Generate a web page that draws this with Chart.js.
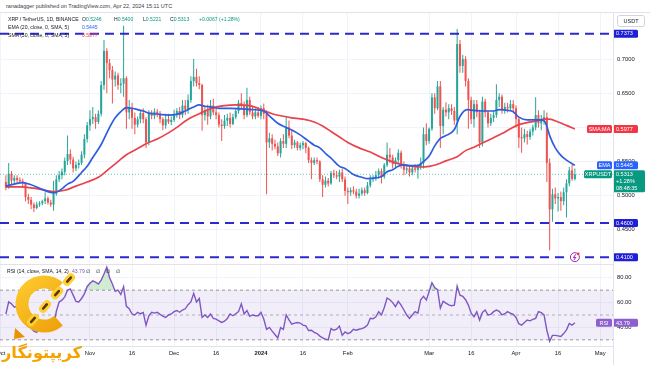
<!DOCTYPE html>
<html>
<head>
<meta charset="utf-8">
<script src="https://cdn.jsdelivr.net/npm/chart.js@4.4.1/dist/chart.umd.min.js"></script>
<style>
html,body{margin:0;padding:0;background:#fff;}
body{width:650px;height:365px;overflow:hidden;position:relative;font-family:"Liberation Sans",Arial,sans-serif;}
canvas{position:absolute;left:0;}
#c1{top:13px;}
#c2{top:264px;}
.t{position:absolute;white-space:nowrap;font-size:5.1px;line-height:6px;color:#131722;z-index:5;}
.g{color:#089981;}
.ln{position:absolute;background:#e0e3eb;z-index:4;}
#fa{position:absolute;left:2px;top:345px;font-family:"DejaVu Sans",sans-serif;font-weight:bold;color:#f5a300;white-space:nowrap;z-index:6;direction:rtl;line-height:1;}
</style>
</head>
<body>
<canvas id="c1" width="650" height="251"></canvas>
<canvas id="c2" width="650" height="101"></canvas>
<div class="ln" style="left:0;top:12px;width:650px;height:1px"></div>
<div class="ln" style="left:0;top:264px;width:613px;height:1px"></div>
<div class="ln" style="left:613px;top:12px;width:1px;height:353px"></div>

<div class="t" style="left:6px;top:3px;color:#404040;font-size:5.5px">ranadagger published on TradingView.com, Apr 22, 2024 15:11 UTC</div>
<div class="t" style="left:8px;top:16px">XRP / TetherUS, 1D, BINANCE</div>
<div class="t" style="left:82px;top:16px">O<span class="g" id="vO"></span></div>
<div class="t" style="left:114px;top:16px">H<span class="g" id="vH"></span></div>
<div class="t" style="left:143px;top:16px">L<span class="g" id="vL"></span></div>
<div class="t" style="left:170px;top:16px">C<span class="g" id="vC"></span></div>
<div class="t" style="left:199px;top:16px"><span class="g" id="vChg"></span></div>
<div class="t" style="left:8px;top:24px">EMA (20, close, 0, SMA, 5)</div>
<div class="t" style="left:82px;top:24px;color:#2962ff" id="vEma"></div>
<div class="t" style="left:8px;top:31.5px">SMA (50, close, 0, SMA, 5)</div>
<div class="t" style="left:82px;top:31.5px;color:#f23645" id="vSma"></div>
<div class="t" style="left:7px;top:267.5px">RSI (14, close, SMA, 14, 2)</div>
<div class="t" style="left:72px;top:267.5px;color:#7e57c2" id="vRsi"></div>
<div class="t" style="left:86px;top:267.5px">∅</div>
<div class="t" style="left:96px;top:267.5px">∅</div>
<div class="t" style="left:106px;top:267.5px">∅</div>
<div class="t" style="left:116px;top:267.5px">∅</div>
<div id="fa">کریپتونگار</div>

<script>
// ---------------- DATA ----------------
// day numbers: 0 = 1 Nov 2023; first candle = 2 Oct 2023
const firstDay = -30;
const opens = [
 .520,.512,.532,.522,.526,.523,.521,.518,.498,.494,.487,.482,.487,.489,.492,.496,.490,.487,.503,.524,.530,.535,.551,.561,.553,.540,.545,.548,.560,.583,
 .603,.612,.615,.608,.620,.662,.712,.694,.684,.670,.676,.662,.664,.672,.622,.628,.614,.604,.612,.621,.612,.578,.620,.617,.623,.620,.612,.603,.612,.608,
 .611,.620,.624,.618,.632,.626,.640,.668,.674,.665,.662,.618,.625,.616,.632,.622,.618,.604,.602,.610,.614,.605,.615,.624,.636,.632,.618,.640,.622,.616,.622,
 .617,.628,.620,.578,.584,.576,.572,.562,.580,.576,.600,.588,.574,.578,.570,.574,.577,.570,.552,.548,.552,.550,.524,.516,.522,.518,.533,.530,.528,.534,.524,
 .507,.505,.508,.506,.500,.503,.508,.504,.515,.524,.526,.530,.536,.528,.545,.560,.556,.546,.552,.563,.546,.538,.540,.534,.540,.538,.542,.548,.590,
 .580,.598,.644,.628,.660,.602,.626,.622,.628,.624,.610,.722,.690,.700,.668,.640,.612,.634,.622,.578,.638,.622,.606,.614,.618,.640,.645,.626,.630,.628,.634,
 .628,.612,.585,.584,.590,.586,.594,.600,.618,.606,.612,.615,.548,.480,.502,.496,.498,.492,.505,.518,.537,.5246];
const highs = [
 .530,.548,.536,.530,.530,.527,.525,.520,.503,.498,.490,.491,.492,.494,.505,.499,.494,.522,.530,.536,.540,.556,.588,.568,.557,.550,.553,.565,.590,.608,
 .625,.630,.620,.625,.668,.728,.716,.700,.690,.682,.680,.672,.749,.675,.640,.636,.622,.616,.625,.628,.615,.625,.625,.628,.627,.624,.615,.620,.620,.616,
 .626,.628,.630,.640,.640,.648,.675,.700,.686,.675,.664,.632,.633,.640,.642,.628,.622,.612,.618,.620,.622,.620,.628,.640,.650,.638,.658,.645,.630,.628,.630,
 .632,.635,.625,.592,.590,.582,.578,.584,.590,.617,.610,.596,.582,.580,.578,.580,.579,.572,.556,.556,.556,.552,.530,.528,.526,.536,.538,.536,.538,.540,.528,
 .512,.512,.514,.510,.510,.512,.512,.520,.530,.530,.536,.540,.540,.548,.578,.570,.560,.556,.568,.566,.550,.546,.545,.544,.546,.546,.556,.600,.606,
 .600,.650,.650,.668,.668,.630,.637,.634,.634,.630,.744,.728,.706,.704,.672,.645,.640,.640,.626,.645,.642,.625,.620,.624,.663,.650,.648,.636,.636,.640,.640,
 .632,.614,.600,.598,.595,.598,.604,.644,.625,.618,.625,.622,.555,.510,.512,.504,.506,.512,.524,.542,.545,.5400];
const lows = [
 .508,.510,.516,.516,.518,.519,.513,.492,.488,.480,.476,.480,.484,.486,.488,.487,.484,.478,.500,.520,.524,.530,.545,.546,.534,.536,.540,.545,.555,.578,
 .595,.605,.598,.605,.616,.655,.650,.672,.635,.660,.655,.650,.645,.598,.612,.598,.590,.600,.606,.606,.570,.574,.612,.612,.615,.606,.596,.598,.605,.603,
 .608,.614,.612,.614,.618,.620,.636,.660,.660,.656,.595,.610,.604,.612,.618,.612,.600,.580,.598,.602,.600,.603,.612,.620,.628,.612,.615,.618,.612,.612,.614,
 .612,.612,.502,.570,.566,.568,.558,.556,.570,.570,.584,.568,.570,.566,.566,.568,.562,.548,.524,.545,.546,.520,.498,.512,.514,.516,.526,.524,.520,.520,.500,
 .488,.500,.502,.496,.496,.500,.500,.502,.512,.520,.522,.525,.518,.525,.542,.548,.540,.540,.548,.540,.530,.532,.528,.530,.534,.525,.538,.540,.574,
 .576,.595,.620,.625,.570,.590,.616,.612,.618,.604,.590,.680,.680,.660,.598,.605,.600,.615,.570,.572,.615,.600,.602,.608,.614,.630,.620,.620,.622,.624,.624,
 .600,.570,.563,.578,.575,.582,.588,.596,.600,.596,.604,.520,.420,.462,.488,.477,.478,.486,.468,.514,.522,.5221];
const closes = [
 .512,.532,.522,.526,.523,.521,.518,.498,.494,.487,.482,.487,.489,.492,.496,.490,.487,.503,.524,.530,.535,.551,.561,.553,.540,.545,.548,.560,.583,.603,
 .612,.615,.608,.620,.662,.712,.694,.684,.670,.676,.662,.664,.672,.622,.628,.614,.604,.612,.621,.612,.578,.620,.617,.623,.620,.612,.603,.612,.608,.611,
 .620,.624,.618,.632,.626,.640,.668,.674,.665,.662,.618,.625,.616,.632,.622,.618,.604,.602,.610,.614,.605,.615,.624,.636,.632,.618,.640,.622,.616,.622,.617,
 .628,.620,.578,.584,.576,.572,.562,.580,.576,.600,.588,.574,.578,.570,.574,.577,.570,.552,.548,.552,.550,.524,.516,.522,.518,.533,.530,.528,.534,.524,.507,
 .505,.508,.506,.500,.503,.508,.504,.515,.524,.526,.530,.536,.528,.545,.560,.556,.546,.552,.563,.546,.538,.540,.534,.540,.538,.542,.548,.590,.580,
 .598,.644,.628,.660,.602,.626,.622,.628,.624,.610,.722,.690,.700,.668,.640,.612,.634,.622,.578,.638,.622,.606,.614,.618,.640,.645,.626,.630,.628,.634,.628,
 .612,.585,.584,.590,.586,.594,.600,.618,.606,.612,.615,.548,.480,.502,.496,.498,.492,.505,.518,.537,.5246,.5313];

const emaDays = [-30,-27,-24,-21,-18,-15,-13,-10,-8,-6,-3,-1,1,4,7,9,11,13,15,17,19,21,23,25,28,31,34,37,39,41,43,46,50,54,58,62,64,67,70,73,75,78,80,82,84.5,86,89,91,94,97,99,102,104,106,108,110,112,115,117,119,121,123,125,127,130,132,134.5,137,140,144,146,149,151,153,156,159,161,162.5,164,166,168,170,173];
const emaVals = [.514,.517,.519,.516,.511,.506,.504,.510,.517,.521,.534,.543,.556,.575,.600,.614,.623,.629,.628,.626,.624,.621,.620,.619,.618,.619,.624,.630,.633,.631,.630,.628,.628,.627,.626,.624,.617,.606,.600,.594,.589,.580,.574,.570,.560,.555,.543,.540,.531,.527,.525,.526,.528,.535,.538,.543,.545,.544,.544,.550,.558,.573,.584,.588,.597,.616,.626,.625,.624,.624,.626,.625,.623,.615,.611,.611,.611,.607,.588,.570,.559,.552,.5445];

const smaDays = [-30,-25,-20,-16,-13,-9,-5,-1,3,7,10,13,17,20,24,28,31,35,39,44,48,52,57,61,65,68,72,76,80,83,86,89,92,96,100,104,107,110,113,118,121,124,127,131,134,137,140,144,147,150,153,156,159,162,164,167,170,173];
const smaVals = [.513,.513,.511,.508,.506,.508,.514,.520,.527,.540,.550,.560,.569,.576,.583,.592,.600,.612,.620,.629,.632,.633,.632,.626,.620,.617,.614,.612,.608,.602,.594,.586,.578,.570,.564,.556,.551,.547,.544,.542,.543,.546,.551,.557,.566,.571,.577,.585,.591,.598,.604,.607,.609,.612,.612,.608,.603,.5977];

const rsiFirstDay = -30;
const rsiVals = [
 50.8,60.5,59,56.3,57.2,55,52,44,42,39.5,37,36,40,41,43,45,41.5,40,53,60.5,62,64.6,70,71,66,61,60.5,63.3,67,73,
 75.6,77.5,76.4,75,78,83,88.6,80,75,69,70,66.5,72.9,57,55,50.8,50,52.2,51,52,41.7,49.4,52.2,51.5,52.2,50.5,49,48,50,50.8,
 52.7,53.6,52.2,54,55,58.3,60.5,67.4,60.5,63.3,48,50,48,50.8,47.2,46.7,45.3,44,45,47.2,50.8,49.4,51,52.7,59,50.8,53.6,48.9,50,49.4,49.4,
 52.2,46.7,38.4,40,37,34.3,31.5,39.8,38.4,50,46,42.6,43.4,43.9,43.5,41.8,41.2,37.5,37.7,36,35,33,31.6,30.5,30,39,37.7,38.5,41,33.6,36.3,
 35,36,38.4,37.7,38.5,39,40,41.8,47.3,47,48.6,52.7,50,56,63.7,62.3,60,56.8,61,58,54,50,47.3,50,52.7,51.4,62.3,65,62,
 69,76,72,70.5,55.5,61,59.5,58.2,57.5,58,73.3,66,65,62.3,58,51.4,48.6,52.7,45.9,52,54,50,50.5,52.7,54,53,50,51,52.7,51.4,50.5,
 48,43,41.8,44,45.9,45.3,46.5,47.3,52.7,51.9,50,37.7,28.9,33.6,33.6,33.2,32.7,35,38,43.2,41.8,43.79];

const levels = [0.7373, 0.46, 0.41];
const timeTickDays = [-31.8,0,15,30,45,61,76,92,121,136,152,167,182];
const timeTickLabels = ['Oct','Nov','16','Dec','16','2024','16','Feb','Mar','16','Apr','16','May'];
const priceTicks = [0.45,0.50,0.55,0.60,0.65,0.70];
const rsiTicks = [40,60,80];
const rsiLevels = [70,50,30];

// ---------------- view ranges ----------------
const X_MIN = -32.1, X_MAX = 186.6;
const Y_MIN = 0.4000, Y_MAX = 0.7675;
const R_MIN = 25.0, R_MAX = 91.1;
const FONT = '"Liberation Sans", Arial, sans-serif';
Chart.defaults.font.family = FONT;

const UP = '#26a69a', DN = '#ef5350';
const lastClose = closes[closes.length-1];
const prevClose = closes[closes.length-2];
const lastEma = emaVals[emaVals.length-1];
const lastSma = smaVals[smaVals.length-1];
const lastRsi = rsiVals[rsiVals.length-1];

// legend texts from data
document.getElementById('vO').textContent = opens[opens.length-1].toFixed(4);
document.getElementById('vH').textContent = highs[highs.length-1].toFixed(4);
document.getElementById('vL').textContent = lows[lows.length-1].toFixed(4);
document.getElementById('vC').textContent = lastClose.toFixed(4);
const chg = lastClose - prevClose;
const chgTxt = (chg>=0?'+':'') + chg.toFixed(4) + ' (' + (chg>=0?'+':'') + (chg/prevClose*100).toFixed(2) + '%)';
document.getElementById('vChg').textContent = chgTxt;
document.getElementById('vEma').textContent = lastEma.toFixed(4);
document.getElementById('vSma').textContent = lastSma.toFixed(4);
document.getElementById('vRsi').textContent = lastRsi.toFixed(2);

const xs = closes.map((c,i)=>firstDay+i);
const cols = closes.map((c,i)=> c>=opens[i] ? UP : DN);
const bodyData = closes.map((c,i)=>({x:xs[i], y:[opens[i], c]}));
const wickData = closes.map((c,i)=>({x:xs[i], y:[lows[i], highs[i]]}));
const hline = v => [{x:X_MIN,y:v},{x:X_MAX,y:v}];

function tag(ctx, x, yc, w, h, bg, lines, align, color){
  ctx.fillStyle = bg;
  ctx.beginPath();
  if (ctx.roundRect) ctx.roundRect(x, yc-4, w, h, 1.5); else ctx.rect(x, yc-4, w, h);
  ctx.fill();
  ctx.fillStyle = color || '#ffffff';
  ctx.textAlign = align==='center' ? 'center' : 'left';
  ctx.textBaseline = 'middle';
  lines.forEach((t,i)=>{
    ctx.fillText(t, align==='center' ? x+w/2 : x+3, yc + i*7 + 0.3);
  });
}

const priceTags = {
  id:'priceTags',
  afterDraw(chart){
    const ctx = chart.ctx, ys = chart.scales.y, xsc = chart.scales.x, R = chart.chartArea.right;
    ctx.save();
    ctx.font = '5.5px ' + FONT;
    ctx.fillStyle = '#ffffff'; ctx.strokeStyle = '#d1d4dc'; ctx.lineWidth = 1;
    ctx.beginPath(); ctx.roundRect(617.5, 2.5, 27, 11, 2); ctx.fill(); ctx.stroke();
    ctx.fillStyle = '#131722'; ctx.textAlign='center'; ctx.textBaseline='middle';
    ctx.fillText('USDT', 631, 8.3);
    levels.forEach(v => tag(ctx, R, ys.getPixelForValue(v), 25, 8, '#1f1fd6', [v.toFixed(4)]));
    const yS = ys.getPixelForValue(lastSma);
    tag(ctx, R-26, yS, 25, 8, '#f23645', ['SMA:MA'], 'center');
    tag(ctx, R, yS, 25, 8, '#f23645', [lastSma.toFixed(4)]);
    const yE = ys.getPixelForValue(lastEma);
    tag(ctx, R-16, yE, 15, 8, '#2962ff', ['EMA'], 'center');
    tag(ctx, R, yE, 25, 8, '#2962ff', [lastEma.toFixed(4)]);
    const yC = ys.getPixelForValue(lastClose);
    tag(ctx, R-29, yC, 28, 8, '#089981', ['XRPUSDT'], 'center');
    const pct = (chg>=0?'+':'') + (chg/prevClose*100).toFixed(2) + '%';
    tag(ctx, R, yC, 32, 22, '#089981', [lastClose.toFixed(4), pct, '08:48:35']);
    const fx = xsc.getPixelForValue(xs[xs.length-1]), fy = ys.getPixelForValue(levels[2]);
    ctx.fillStyle = '#ffffff'; ctx.strokeStyle = '#9c27b0'; ctx.lineWidth = 1;
    ctx.beginPath(); ctx.arc(fx, fy, 4.5, 0, Math.PI*2); ctx.fill(); ctx.stroke();
    ctx.beginPath(); ctx.moveTo(fx+1, fy-3); ctx.lineTo(fx-1.5, fy+0.5); ctx.lineTo(fx+1, fy+0.2); ctx.lineTo(fx-1, fy+3);
    ctx.stroke();
    ctx.fillStyle = '#f23645'; ctx.beginPath(); ctx.arc(fx+3.3, fy-3.3, 1.4, 0, Math.PI*2); ctx.fill();
    ctx.restore();
  }
};

new Chart(document.getElementById('c1'), {
  type:'bar',
  data:{datasets:[
    ...levels.map(v=>({type:'line', data:hline(v), borderColor:'#2a2ad0', borderWidth:2, borderDash:[9,6], pointRadius:0, order:0})),
    {type:'line', data:emaDays.map((d,i)=>({x:d,y:emaVals[i]})), borderColor:'#2e5ddf', borderWidth:1.7, pointRadius:0, cubicInterpolationMode:'monotone', order:1},
    {type:'line', data:smaDays.map((d,i)=>({x:d,y:smaVals[i]})), borderColor:'#e8424c', borderWidth:1.7, pointRadius:0, cubicInterpolationMode:'monotone', order:1},
    {type:'bar', data:bodyData, backgroundColor:cols, barThickness:2, grouped:false, minBarLength:1, inflateAmount:0, order:2},
    {type:'bar', data:wickData, backgroundColor:cols, barThickness:1, grouped:false, inflateAmount:0, order:3},
    {type:'line', data:hline(lastClose), borderColor:'rgba(8,153,129,0.55)', borderWidth:1, borderDash:[1,2], pointRadius:0, order:4}
  ]},
  options:{
    responsive:false, animation:false, devicePixelRatio:1, events:[],
    layout:{padding:0},
    plugins:{legend:{display:false}, tooltip:{enabled:false}},
    scales:{
      x:{type:'linear', min:X_MIN, max:X_MAX, offset:false,
         afterBuildTicks:s=>{s.ticks = timeTickDays.map(v=>({value:v}));},
         afterFit:s=>{s.height=0; s.paddingLeft=0; s.paddingRight=0;},
         ticks:{display:false}, grid:{color:'#f0f3fa', drawTicks:false, offset:false}, border:{display:false}},
      y:{position:'right', min:Y_MIN, max:Y_MAX,
         afterBuildTicks:s=>{s.ticks = priceTicks.map(v=>({value:v}));},
         afterFit:s=>{s.width=37; s.paddingTop=0; s.paddingBottom=0;},
         ticks:{font:{size:5.8}, color:'#131722', padding:4, callback:v=>Number(v).toFixed(4)},
         grid:{color:'#f0f3fa', drawTicks:false}, border:{display:false}}
    }
  },
  plugins:[priceTags]
});

function drawLogo(ctx){
  ctx.save();
  const g = ctx.createLinearGradient(15, 10, 75, 80);
  g.addColorStop(0, '#ffcf33'); g.addColorStop(1, '#e99300');
  ctx.strokeStyle = g; ctx.lineWidth = 13;
  ctx.beginPath(); ctx.arc(44, 40, 22, 0.27*Math.PI, 1.73*Math.PI); ctx.stroke();
  const x0 = 74, y0 = 10, x1 = 24, y1 = 66;
  const ang = Math.atan2(y1-y0, x1-x0);
  for (let k=0;k<4;k++){
    const t = 0.1 + k*0.24;
    const cx = x0 + (x1-x0)*t, cy = y0 + (y1-y0)*t;
    ctx.save(); ctx.translate(cx, cy); ctx.rotate(ang);
    ctx.fillStyle = g; ctx.beginPath(); ctx.roundRect(-7, -4, 14, 8, 4); ctx.fill();
    ctx.fillStyle = '#5a3a06'; ctx.beginPath(); ctx.roundRect(-4, -1.3, 8, 2.6, 1.3); ctx.fill();
    ctx.restore();
  }
  ctx.fillStyle = '#e99300';
  ctx.beginPath(); ctx.moveTo(14, 75); ctx.lineTo(15, 64); ctx.lineTo(25, 73); ctx.closePath(); ctx.fill();
  ctx.restore();
}

const rsiTags = {
  id:'rsiTags',
  afterDraw(chart){
    const ctx = chart.ctx, ys = chart.scales.y, R = chart.chartArea.right;
    ctx.save();
    ctx.font = '5.5px ' + FONT;
    const y = ys.getPixelForValue(lastRsi);
    tag(ctx, R-17, y, 16, 8, '#8e5fcf', ['RSI'], 'center');
    tag(ctx, R, y, 25, 8, '#8e5fcf', [lastRsi.toFixed(2)]);
    ctx.restore();
    drawLogo(ctx);
  }
};

const rsiData = rsiVals.map((v,i)=>({x:rsiFirstDay+i, y:v}));
new Chart(document.getElementById('c2'), {
  type:'line',
  data:{datasets:[
    {data:hline(rsiLevels[0]), borderColor:'#9598a1', borderWidth:1, borderDash:[3,3], pointRadius:0, fill:false, order:1},
    {data:hline(rsiLevels[2]), borderColor:'#9598a1', borderWidth:1, borderDash:[3,3], pointRadius:0, fill:'-1', backgroundColor:'rgba(126,87,194,0.10)', order:1},
    {data:hline(rsiLevels[1]), borderColor:'rgba(149,152,161,0.7)', borderWidth:1, borderDash:[3,3], pointRadius:0, fill:false, order:1},
    {data:rsiData, borderColor:'#7e57c2', borderWidth:1.4, pointRadius:0, fill:{target:{value:70}, above:'rgba(76,175,80,0.25)', below:'rgba(0,0,0,0)'}, order:0},
    {data:rsiData, borderColor:'rgba(0,0,0,0)', borderWidth:0, pointRadius:0, fill:{target:{value:30}, above:'rgba(0,0,0,0)', below:'rgba(242,54,69,0.25)'}, order:2}
  ]},
  options:{
    responsive:false, animation:false, devicePixelRatio:1, events:[],
    layout:{padding:0},
    plugins:{legend:{display:false}, tooltip:{enabled:false}},
    scales:{
      x:{type:'linear', min:X_MIN, max:X_MAX, offset:false,
         afterBuildTicks:s=>{s.ticks = timeTickDays.map(v=>({value:v}));},
         afterFit:s=>{s.height=19; s.paddingLeft=0; s.paddingRight=0;},
         ticks:{autoSkip:false, maxRotation:0, padding:4, color:'#131722',
                font:c=>({size:5.8, weight:(c.tick && c.tick.value===61)?'bold':'normal'}),
                callback:v=>timeTickLabels[timeTickDays.indexOf(v)]},
         grid:{color:'#f0f3fa', drawTicks:false, offset:false}, border:{color:'#e0e3eb'}},
      y:{position:'right', min:R_MIN, max:R_MAX,
         afterBuildTicks:s=>{s.ticks = rsiTicks.map(v=>({value:v}));},
         afterFit:s=>{s.width=37; s.paddingTop=0; s.paddingBottom=0;},
         ticks:{font:{size:5.8}, color:'#131722', padding:4, callback:v=>Number(v).toFixed(2)},
         grid:{color:'#f0f3fa', drawTicks:false}, border:{display:false}}
    }
  },
  plugins:[rsiTags]
});

const fa = document.getElementById('fa');
fa.style.fontSize = '24px';
const fw = fa.getBoundingClientRect().width;
fa.style.fontSize = (24*80/fw).toFixed(2) + 'px';
</script>
</body>
</html>
